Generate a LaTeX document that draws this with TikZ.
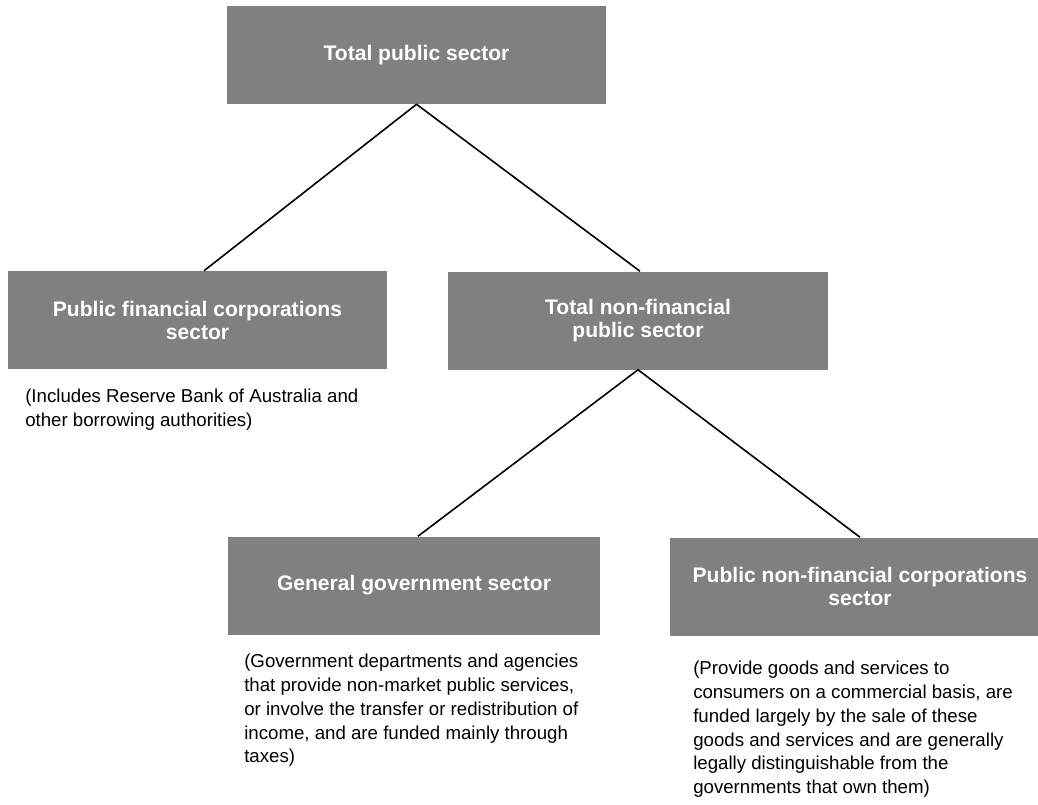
\documentclass[tikz,border=0pt]{standalone}
\usepackage{fontspec}
\setmainfont{Liberation Sans}
\definecolor{boxgray}{HTML}{808080}
\tikzset{
  sectorbox/.style={fill=boxgray, text=white, font=\fontsize{15.8}{17.25}\selectfont\bfseries,
    align=center, inner sep=0pt, minimum height=73.5pt},
  note/.style={font=\fontsize{14}{17.8}\selectfont, align=left, inner sep=0pt, anchor=north west},
  link/.style={line width=1.2pt}
}
\begin{document}
\begin{tikzpicture}[x=0.75pt,y=-0.75pt]
\useasboundingbox (0,0) rectangle (1038,804);
\node[sectorbox, minimum width=284.25pt] (b1) at (416.5,55) {Total public sector};
\node[sectorbox, minimum width=284.25pt] (b2) at (197.5,320) {Public financial corporations\\sector};
\node[sectorbox, minimum width=285pt] (b3) at (638,320.5) {Total non-financial\\public sector};
\node[sectorbox, minimum width=279pt] (b4) at (414,585.5) {General government sector};
\node[sectorbox, minimum width=285pt] (b5) at (860,586.5) {Public non-financial corporations\\sector};

\node[note] (n2) at (25,389) {(Includes Reserve Bank of Australia and\\other borrowing authorities)};
\node[note] (n4) at (244,654) {(Government departments and agencies\\that provide non-market public services,\\or involve the transfer or redistribution of\\income, and are funded mainly through\\taxes)};
\node[note] (n5) at (693,661) {(Provide goods and services to\\consumers on a commercial basis, are\\funded largely by the sale of these\\goods and services and are generally\\legally distinguishable from the\\governments that own them)};

\draw[link] (b1.south) -- ([xshift=4.9pt]b2.north);
\draw[link] (b1.south) -- ([xshift=1.5pt]b3.north);
\draw[link] (b3.south) -- ([xshift=3pt]b4.north);
\draw[link] (b3.south) -- (b5.north);
\end{tikzpicture}
\end{document}
